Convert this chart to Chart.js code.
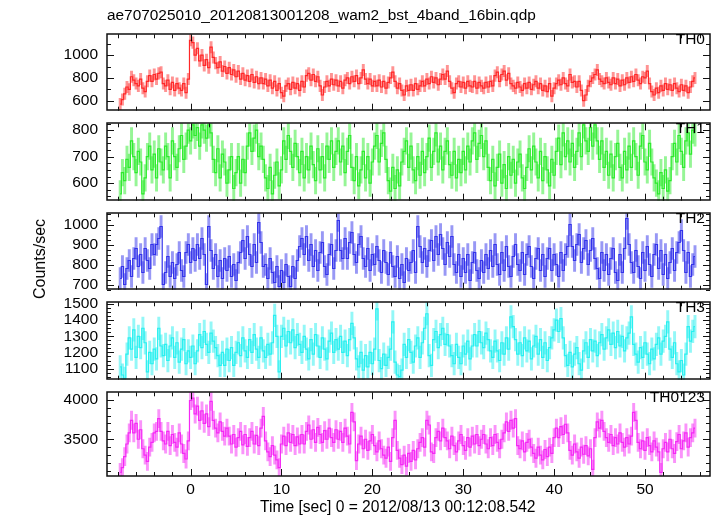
<!DOCTYPE html>
<html>
<head>
<meta charset="utf-8">
<script src="https://cdn.jsdelivr.net/npm/chart.js@4.4.1/dist/chart.umd.min.js"></script>
<style>
  body { margin: 0; background: #fff; width: 717px; height: 516px; overflow: hidden; position: relative;
         font-family: "Liberation Sans", Arial, sans-serif; }
  canvas { position: absolute; left: 0; }
  .txt { position: absolute; white-space: nowrap; color: #000; line-height: 1; z-index: 5; }
</style>
</head>
<body>
<div class="txt" style="left:107px;top:7px;font-size:15.4px">ae707025010_20120813001208_wam2_bst_4band_16bin.qdp</div>
<div class="txt" style="left:40px;top:259px;font-size:16px;transform:translate(-50%,-50%) rotate(-90deg)">Counts/sec</div>
<div class="txt" style="left:260px;top:499px;font-size:15.6px">Time [sec] 0 = 2012/08/13 00:12:08.542</div>

<script>
// light curve bins: 0.25 s wide, first bin at -7.75 s
const T_START = -7.75;
const BIN = 0.25;

const TH0 = [
  570, 610, 660, 720, 700, 810, 780, 750, 730, 790, 710, 680, 770, 820, 770, 830,
  790, 840, 850, 750, 730, 780, 700, 760, 690, 750, 710, 690, 750, 670, 790, 1130,
  1110, 1000, 1060, 950, 1000, 910, 960, 890, 1070, 980, 930, 890, 940, 860, 900, 840,
  890, 830, 870, 810, 860, 790, 840, 780, 820, 770, 830, 760, 810, 750, 800, 750,
  790, 730, 780, 710, 770, 690, 750, 670, 640, 730, 750, 700, 760, 710, 750, 690,
  770, 720, 820, 840, 780, 830, 770, 810, 730, 650, 720, 770, 730, 790, 740, 780,
  730, 770, 710, 780, 800, 750, 810, 770, 820, 750, 800, 870, 790, 750, 790, 730,
  770, 730, 780, 720, 770, 710, 760, 800, 850, 770, 710, 750, 690, 650, 730, 690,
  740, 690, 750, 700, 730, 770, 730, 790, 750, 810, 760, 800, 740, 790, 830, 790,
  860, 770, 710, 670, 750, 770, 720, 760, 710, 770, 730, 720, 770, 710, 760, 730,
  710, 760, 720, 770, 730, 820, 850, 770, 830, 860, 780, 840, 750, 730, 710, 760,
  720, 690, 750, 710, 760, 700, 740, 770, 710, 750, 690, 730, 680, 750, 640, 710,
  750, 780, 740, 800, 750, 730, 830, 760, 770, 720, 770, 690, 600, 650, 730, 770,
  800, 830, 870, 790, 770, 750, 800, 760, 740, 800, 750, 790, 730, 780, 740, 800,
  760, 810, 770, 830, 780, 750, 810, 800, 860, 750, 680, 650, 710, 670, 730, 690,
  750, 700, 740, 690, 750, 710, 680, 740, 690, 730, 670, 720, 770, 800
];

const TH1 = [
  560, 640, 610, 690, 660, 760, 700, 640, 720, 680, 560, 620, 700, 740, 650, 710,
  620, 730, 680, 650, 740, 700, 620, 760, 700, 660, 730, 780, 690, 740, 800, 760,
  820, 780, 810, 740, 820, 800, 770, 820, 790, 690, 640, 730, 620, 710, 680, 600,
  650, 700, 580, 640, 700, 600, 690, 640, 740, 790, 720, 770, 800, 700, 740, 690,
  620, 580, 660, 560, 630, 680, 590, 650, 760, 690, 780, 720, 660, 750, 700, 640,
  720, 620, 700, 650, 740, 670, 610, 730, 650, 700, 620, 740, 690, 760, 660, 720,
  760, 680, 740, 640, 720, 780, 660, 610, 700, 590, 650, 720, 620, 700, 600, 680,
  740, 780, 680, 750, 790, 690, 610, 570, 660, 580, 650, 590, 680, 720, 760, 660,
  740, 650, 610, 700, 630, 720, 640, 700, 770, 660, 720, 790, 680, 740, 650, 720,
  760, 670, 630, 720, 620, 690, 640, 720, 650, 740, 680, 760, 790, 690, 750, 780,
  700, 760, 660, 610, 690, 590, 660, 710, 600, 670, 580, 700, 630, 690, 600, 680,
  710, 620, 580, 660, 730, 650, 740, 680, 620, 720, 610, 700, 650, 590, 690, 630,
  720, 770, 670, 790, 700, 760, 680, 750, 660, 720, 790, 700, 820, 760, 720, 810,
  740, 820, 760, 690, 760, 660, 720, 630, 710, 620, 700, 750, 660, 620, 720, 650,
  740, 660, 760, 700, 630, 740, 780, 680, 650, 750, 680, 620, 600, 560, 640, 580,
  650, 570, 610, 700, 750, 680, 780, 720, 660, 760, 790, 710, 800, 790
];

const TH2 = [
  730, 790, 700, 780, 820, 740, 830, 880, 790, 850, 760, 880, 820, 780, 900, 850,
  900, 930, 990, 700, 760, 840, 740, 810, 730, 800, 860, 770, 740, 860, 900, 810,
  880, 820, 900, 830, 930, 850, 700, 990, 870, 780, 850, 740, 820, 730, 830, 770,
  840, 740, 800, 720, 810, 860, 920, 830, 940, 850, 790, 900, 810, 1010, 910, 790,
  800, 730, 830, 760, 710, 790, 690, 770, 710, 800, 740, 690, 790, 730, 820, 890,
  930, 850, 940, 820, 900, 790, 870, 770, 860, 910, 790, 750, 850, 900, 780, 870,
  1020, 870, 830, 930, 830, 910, 960, 850, 810, 900, 940, 830, 790, 880, 770, 850,
  800, 890, 820, 760, 870, 810, 750, 860, 790, 740, 840, 730, 800, 710, 830, 770,
  810, 870, 760, 990, 890, 810, 880, 790, 870, 920, 820, 940, 850, 950, 880, 800,
  910, 840, 940, 800, 760, 850, 740, 830, 760, 850, 720, 810, 860, 770, 730, 820,
  760, 850, 780, 870, 790, 900, 800, 750, 860, 770, 890, 790, 740, 840, 900, 800,
  770, 860, 750, 850, 890, 790, 730, 830, 880, 770, 850, 740, 830, 880, 770, 850,
  800, 740, 860, 770, 850, 890, 1000, 890, 820, 900, 950, 810, 880, 920, 800, 870,
  930, 830, 780, 730, 860, 770, 850, 750, 830, 880, 760, 720, 850, 760, 880, 1030,
  900, 810, 760, 870, 790, 730, 860, 770, 890, 800, 740, 850, 900, 780, 870, 750,
  850, 730, 810, 880, 770, 860, 910, 970, 870, 760, 860, 740, 800, 840
];

const TH3 = [
  1110, 1060, 1040, 1190, 1290, 1220, 1340, 1170, 1300, 1230, 1350, 1260, 1080, 1200, 1130, 1220,
  1160, 1350, 1240, 1180, 1250, 1150, 1240, 1290, 1170, 1260, 1140, 1220, 1280, 1130, 1210, 1170,
  1240, 1130, 1210, 1310, 1230, 1330, 1250, 1200, 1320, 1270, 1230, 1180, 1120, 1200, 1120, 1220,
  1150, 1230, 1120, 1200, 1260, 1180, 1290, 1210, 1170, 1280, 1200, 1310, 1220, 1170, 1290, 1210,
  1170, 1250, 1190, 1260, 1430, 1300, 1080, 1300, 1350, 1240, 1330, 1260, 1340, 1230, 1310, 1250,
  1200, 1300, 1220, 1160, 1280, 1190, 1310, 1240, 1170, 1290, 1220, 1160, 1270, 1320, 1200, 1280,
  1220, 1300, 1200, 1270, 1180, 1280, 1380, 1290, 1160, 1110, 1200, 1090, 1180, 1110, 1200, 1130,
  1220, 1470, 1150, 1100, 1190, 1120, 1170, 1220, 1390, 1140, 1060, 1050, 1090, 1250, 1170, 1280,
  1200, 1140, 1240, 1290, 1170, 1260, 1350, 1440, 1180, 1120, 1280, 1330, 1230, 1310, 1350, 1250,
  1310, 1240, 1180, 1130, 1250, 1170, 1130, 1240, 1190, 1270, 1160, 1240, 1310, 1240, 1330, 1260,
  1230, 1320, 1280, 1210, 1170, 1270, 1210, 1150, 1260, 1190, 1290, 1220, 1420, 1360, 1280, 1190,
  1260, 1180, 1290, 1210, 1270, 1160, 1240, 1300, 1190, 1280, 1170, 1260, 1150, 1230, 1290, 1340,
  1400, 1330, 1410, 1290, 1180, 1120, 1200, 1110, 1190, 1230, 1130, 1090, 1210, 1260, 1170, 1280,
  1210, 1270, 1180, 1260, 1310, 1220, 1290, 1340, 1250, 1320, 1230, 1330, 1240, 1300, 1210, 1290,
  1320, 1420, 1250, 1190, 1140, 1230, 1170, 1260, 1190, 1130, 1220, 1160, 1250, 1290, 1190, 1270,
  1300, 1390, 1220, 1170, 1260, 1130, 1080, 1150, 1060, 1190, 1360, 1270, 1330, 1360
];

const TH0123 = [
  3080, 3140, 3280, 3440, 3580, 3740, 3580, 3700, 3500, 3620, 3380, 3300, 3220, 3400, 3460, 3580,
  3600, 3760, 3600, 3480, 3440, 3600, 3420, 3560, 3460, 3400, 3580, 3440, 3320, 3250, 3480, 3990,
  4020, 3820, 3920, 3740, 3860, 3700, 3820, 3660, 3980, 3740, 3640, 3580, 3720, 3600, 3540, 3640,
  3540, 3440, 3560, 3400, 3520, 3600, 3430, 3560, 3410, 3520, 3600, 3440, 3550, 3420, 3640, 3790,
  3480, 3340, 3280, 3420, 3300, 3240, 3140, 3440, 3540, 3420, 3580, 3460, 3560, 3420, 3530, 3440,
  3560, 3440, 3600, 3680, 3500, 3620, 3460, 3650, 3560, 3460, 3610, 3500, 3640, 3520, 3460, 3620,
  3500, 3600, 3460, 3640, 3540, 3440, 3840, 3720, 3230, 3440, 3540, 3380, 3500, 3360, 3480, 3560,
  3420, 3340, 3480, 3380, 3300, 3260, 3400, 3220, 3520, 3740, 3360, 3260, 3180, 3300, 3160, 3320,
  3220, 3360, 3240, 3380, 3460, 3520, 3400, 3740, 3680, 3340, 3320, 3520, 3600, 3480, 3640, 3520,
  3480, 3380, 3540, 3420, 3340, 3480, 3560, 3420, 3360, 3520, 3400, 3540, 3440, 3560, 3420, 3500,
  3560, 3440, 3380, 3520, 3420, 3560, 3460, 3380, 3500, 3580, 3720, 3600, 3740, 3640, 3760, 3420,
  3380, 3480, 3340, 3460, 3500, 3400, 3320, 3260, 3400, 3300, 3240, 3370, 3280, 3400, 3320, 3520,
  3640, 3520, 3660, 3560, 3690, 3580, 3360, 3300, 3440, 3340, 3260, 3400, 3310, 3420, 3290, 3380,
  3120, 3520, 3720, 3640, 3740, 3600, 3520, 3460, 3560, 3420, 3520, 3440, 3580, 3460, 3400, 3520,
  3440, 3540, 3840, 3740, 3460, 3380, 3480, 3360, 3520, 3420, 3340, 3480, 3400, 3340, 3080, 3380,
  3460, 3340, 3500, 3380, 3320, 3470, 3560, 3380, 3480, 3580, 3400, 3520, 3580, 3640
];

const SERIES = [TH0, TH1, TH2, TH3, TH0123];
const PANEL_NAMES = ['TH0', 'TH1', 'TH2', 'TH3', 'TH0123'];
const ERRORS = [50, 50, 55, 70, 115];          // +/- counts/sec per bin
const Y_MIN = [512, 534, 674, 1031, 3035];
const Y_MAX = [1183, 826, 1056, 1511, 4094];
const Y_TICKS = [[600, 800, 1000], [600, 700, 800], [700, 800, 900, 1000], [1100, 1200, 1300, 1400, 1500], [3500, 4000]];
const Y_MINOR = [100, 25, 25, 25, 100];
const X_MIN = -9.2, X_MAX = 57.15;
const X_TICKS = [0, 10, 20, 30, 40, 50];
const X_MINOR = 2;

const COLORS = ['rgb(255,40,40)', 'rgb(45,235,45)', 'rgb(50,50,235)', 'rgb(40,240,240)', 'rgb(245,40,245)'];
const ERR_COLORS = ['rgba(255,40,40,0.5)', 'rgba(45,235,45,0.5)', 'rgba(50,50,235,0.5)', 'rgba(40,240,240,0.5)', 'rgba(245,40,245,0.5)'];
const PANEL_TOP = [28, 117, 207, 296, 386];
const PANEL_BOTTOM = [117, 207, 296, 386, 476];
const PAD = 12;
const FONT = { family: '"Liberation Sans", Arial, sans-serif', size: 15.5 };

// box round the panel, with inward ticks on all four sides
const framePlugin = {
  id: 'frame',
  afterDatasetsDraw(chart, args, opts) {
    const { ctx, chartArea: a, scales } = chart;
    const xs = scales.x, ys = scales.y;
    ctx.save();
    ctx.strokeStyle = '#111';
    ctx.lineWidth = 1;
    ctx.beginPath();
    for (let t = Math.ceil(X_MIN / X_MINOR) * X_MINOR; t <= X_MAX; t += X_MINOR) {
      const px = Math.round(xs.getPixelForValue(t)) + 0.5;
      const len = X_TICKS.includes(t) ? 7 : 4;
      ctx.moveTo(px, a.top); ctx.lineTo(px, a.top + len);
      ctx.moveTo(px, a.bottom); ctx.lineTo(px, a.bottom - len);
    }
    const step = opts.minor;
    for (let v = Math.ceil(ys.min / step) * step; v <= ys.max; v += step) {
      const py = Math.round(ys.getPixelForValue(v)) + 0.5;
      const len = opts.major.includes(v) ? 7 : 4;
      ctx.moveTo(a.left, py); ctx.lineTo(a.left + len, py);
      ctx.moveTo(a.right, py); ctx.lineTo(a.right - len, py);
    }
    ctx.stroke();
    ctx.lineWidth = 1.5;
    ctx.strokeRect(Math.round(a.left), Math.round(a.top), Math.round(a.right - a.left), Math.round(a.bottom - a.top));
    ctx.restore();
  }
};

function makePanel(i) {
  const values = SERIES[i];
  const last = i === SERIES.length - 1;
  const top = PANEL_TOP[i] - PAD;
  const height = (last ? 516 : PANEL_BOTTOM[i] + PAD) - top;
  const canvas = document.createElement('canvas');
  canvas.width = 717;
  canvas.height = height;
  canvas.style.top = top + 'px';
  document.body.appendChild(canvas);

  const label = document.createElement('div');
  label.className = 'txt';
  label.style.cssText = 'right:12px;top:' + (PANEL_TOP[i] + 3) + 'px;font-size:15.5px';
  label.textContent = PANEL_NAMES[i];
  document.body.appendChild(label);

  const err = ERRORS[i];
  const points = values.map((v, k) => ({ x: T_START + k * BIN, y: v }));
  const bars = values.map((v, k) => ({ x: T_START + k * BIN, y: [v - err, v + err] }));

  new Chart(canvas, {
    data: {
      datasets: [
        {
          type: 'line', data: points, borderColor: COLORS[i], borderWidth: 1.2,
          pointRadius: 0, stepped: 'middle', order: 0
        },
        {
          type: 'bar', data: bars, backgroundColor: ERR_COLORS[i], borderWidth: 0,
          barPercentage: 1, categoryPercentage: 1, grouped: false, order: 1
        }
      ]
    },
    options: {
      responsive: false,
      animation: false,
      events: [],
      layout: { padding: { top: PAD, bottom: last ? 0 : PAD, left: 0, right: 7 } },
      plugins: {
        legend: { display: false },
        tooltip: { enabled: false },
        frame: { minor: Y_MINOR[i], major: Y_TICKS[i] }
      },
      scales: {
        x: {
          type: 'linear', min: X_MIN, max: X_MAX, offset: false, display: last,
          grid: { display: false, drawTicks: false }, border: { display: false },
          afterBuildTicks: s => { s.ticks = X_TICKS.map(v => ({ value: v })); },
          afterFit: s => { s.height = last ? 40 : 0; },
          ticks: { color: '#000', font: FONT, padding: 4, autoSkip: false, maxRotation: 0, callback: v => String(v) }
        },
        y: {
          type: 'linear', min: Y_MIN[i], max: Y_MAX[i],
          grid: { display: false, drawTicks: false }, border: { display: false },
          afterBuildTicks: s => { s.ticks = Y_TICKS[i].map(v => ({ value: v })); },
          afterFit: s => { s.width = 107; },
          ticks: { color: '#000', font: FONT, padding: 9, autoSkip: false, callback: v => String(v) }
        }
      }
    },
    plugins: [framePlugin]
  });
}

for (let i = 0; i < SERIES.length; i++) makePanel(i);
</script>
</body>
</html>
